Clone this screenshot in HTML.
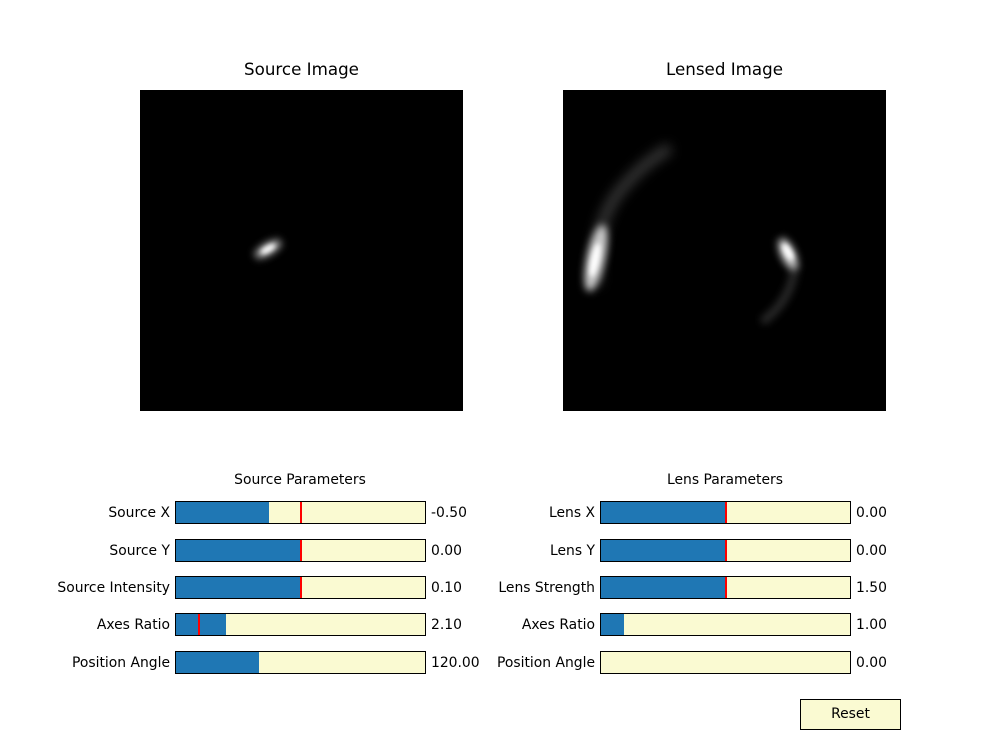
<!DOCTYPE html>
<html><head><meta charset="utf-8"><style>
body{margin:0;background:#fff;font-family:"DejaVu Sans","Liberation Sans",sans-serif;}
#fig{position:relative;width:1000px;height:748px;overflow:hidden;background:#fff}
.t{position:absolute;white-space:nowrap;color:#000}
.lbl{position:absolute;font-size:13.9px;text-align:right;width:170px;line-height:22px;top:1px}
.val{position:absolute;font-size:13.9px;line-height:22px}
.box{position:absolute;width:249px;height:21px;border:1px solid #000;background:#fafad2;overflow:hidden}
.fill{position:absolute;left:0;top:0;bottom:0;background:#1f77b4}
.init{position:absolute;top:0;bottom:0;width:2px;background:#f00;margin-left:-1px}
</style></head><body>
<div id="fig">
<div class="t" style="left:140px;width:323px;text-align:center;top:59px;font-size:16.7px">Source Image</div>
<div class="t" style="left:563px;width:323px;text-align:center;top:59px;font-size:16.7px">Lensed Image</div>
<svg style="position:absolute;left:0;top:0" width="1000" height="748">
<defs>
<filter id="b3" x="-1" y="-1" width="3" height="3"><feGaussianBlur stdDeviation="4"/></filter>
<filter id="b5" x="-1" y="-1" width="3" height="3"><feGaussianBlur stdDeviation="6"/></filter>
<filter id="b2" x="-1" y="-1" width="3" height="3"><feGaussianBlur stdDeviation="2.5"/></filter>
</defs>
<rect x="140" y="90" width="323" height="321" fill="#000"/>
<g>
<ellipse cx="268" cy="249" rx="15" ry="6" transform="rotate(-30 268 249)" fill="#aaa" filter="url(#b3)"/>
<ellipse cx="268" cy="249" rx="8" ry="3" transform="rotate(-30 268 249)" fill="#fff" filter="url(#b2)"/>
</g>
<rect x="563" y="90" width="323" height="321" fill="#000"/>
<g>
<path d="M596 285 Q592 220 625 185 Q645 162 670 148" stroke="#777" stroke-width="10" fill="none" opacity="0.5" filter="url(#b5)"/>
<ellipse cx="596" cy="258" rx="9" ry="34" transform="rotate(12 596 258)" fill="#ccc" filter="url(#b3)"/>
<ellipse cx="595" cy="260" rx="4" ry="17" transform="rotate(12 595 260)" fill="#fff" filter="url(#b2)"/>
</g>
<g>
<path d="M795 265 Q792 300 762 322" stroke="#555" stroke-width="8" fill="none" opacity="0.5" filter="url(#b3)"/>
<ellipse cx="788" cy="254" rx="7" ry="17" transform="rotate(-25 788 254)" fill="#ccc" filter="url(#b3)"/>
<ellipse cx="788" cy="252" rx="3.5" ry="9" transform="rotate(-30 788 252)" fill="#fff" filter="url(#b2)"/>
</g>
</svg>
<div class="t" style="left:175px;width:250px;text-align:center;top:472px;font-size:13.9px">Source Parameters</div>
<div class="t" style="left:600px;width:250px;text-align:center;top:472px;font-size:13.9px">Lens Parameters</div>
<div style="position:absolute;left:800px;top:699px;width:99px;height:29px;border:1px solid #000;background:#fafad2;font-size:13.9px;text-align:center;line-height:29px">Reset</div>
</div>
<script>
const srcLabels=["Source X","Source Y","Source Intensity","Axes Ratio","Position Angle"];
const srcValues=[-0.5,0.0,0.10,2.10,120.0];
const srcInit=[0,0,0.10,1.0,0];
const srcMin=[-2,-2,0,0.1,0];
const srcMax=[2,2,0.2,10,360];
const lensLabels=["Lens X","Lens Y","Lens Strength","Axes Ratio","Position Angle"];
const lensValues=[0,0,1.5,1.0,0];
const lensInit=[0,0,1.5,1.0,0];
const lensMin=[-2,-2,0,0.1,0];
const lensMax=[2,2,3,10,360];
const rowsY=[501,539,576,613,651];
const host=document.getElementById('fig');
function build(labels,values,init,mn,mx,x0,prefix){
  labels.forEach((lab,i)=>{
    const y=rowsY[i];
    const l=document.createElement('div');l.className='lbl';
    l.style.left=(x0-175)+'px';l.style.top=(y+1)+'px';l.textContent=lab;
    
    
    host.appendChild(l);
    const b=document.createElement('div');b.className='box';
    b.style.left=x0+'px';b.style.top=y+'px';
    
    
    const f=document.createElement('div');f.className='fill';
    f.style.width=((values[i]-mn[i])/(mx[i]-mn[i])*249)+'px';
    
    
    b.appendChild(f);
    const frac=(init[i]-mn[i])/(mx[i]-mn[i]);
    if(frac>0.01 && Math.abs(init[i]-values[i])>1e-9 || (frac>0.01 && frac<0.99 && (i<3))){
      const r=document.createElement('div');r.className='init';
      r.style.left=(frac*249)+'px';
      
      
      b.appendChild(r);
    }
    host.appendChild(b);
    const v=document.createElement('div');v.className='val';
    v.style.left=(x0+256)+'px';v.style.top=(y+1)+'px';v.textContent=values[i].toFixed(2);
    
    
    host.appendChild(v);
  });
}
build(srcLabels,srcValues,srcInit,srcMin,srcMax,175,'source');
build(lensLabels,lensValues,lensInit,lensMin,lensMax,600,'lens');
</script>
</body></html>
